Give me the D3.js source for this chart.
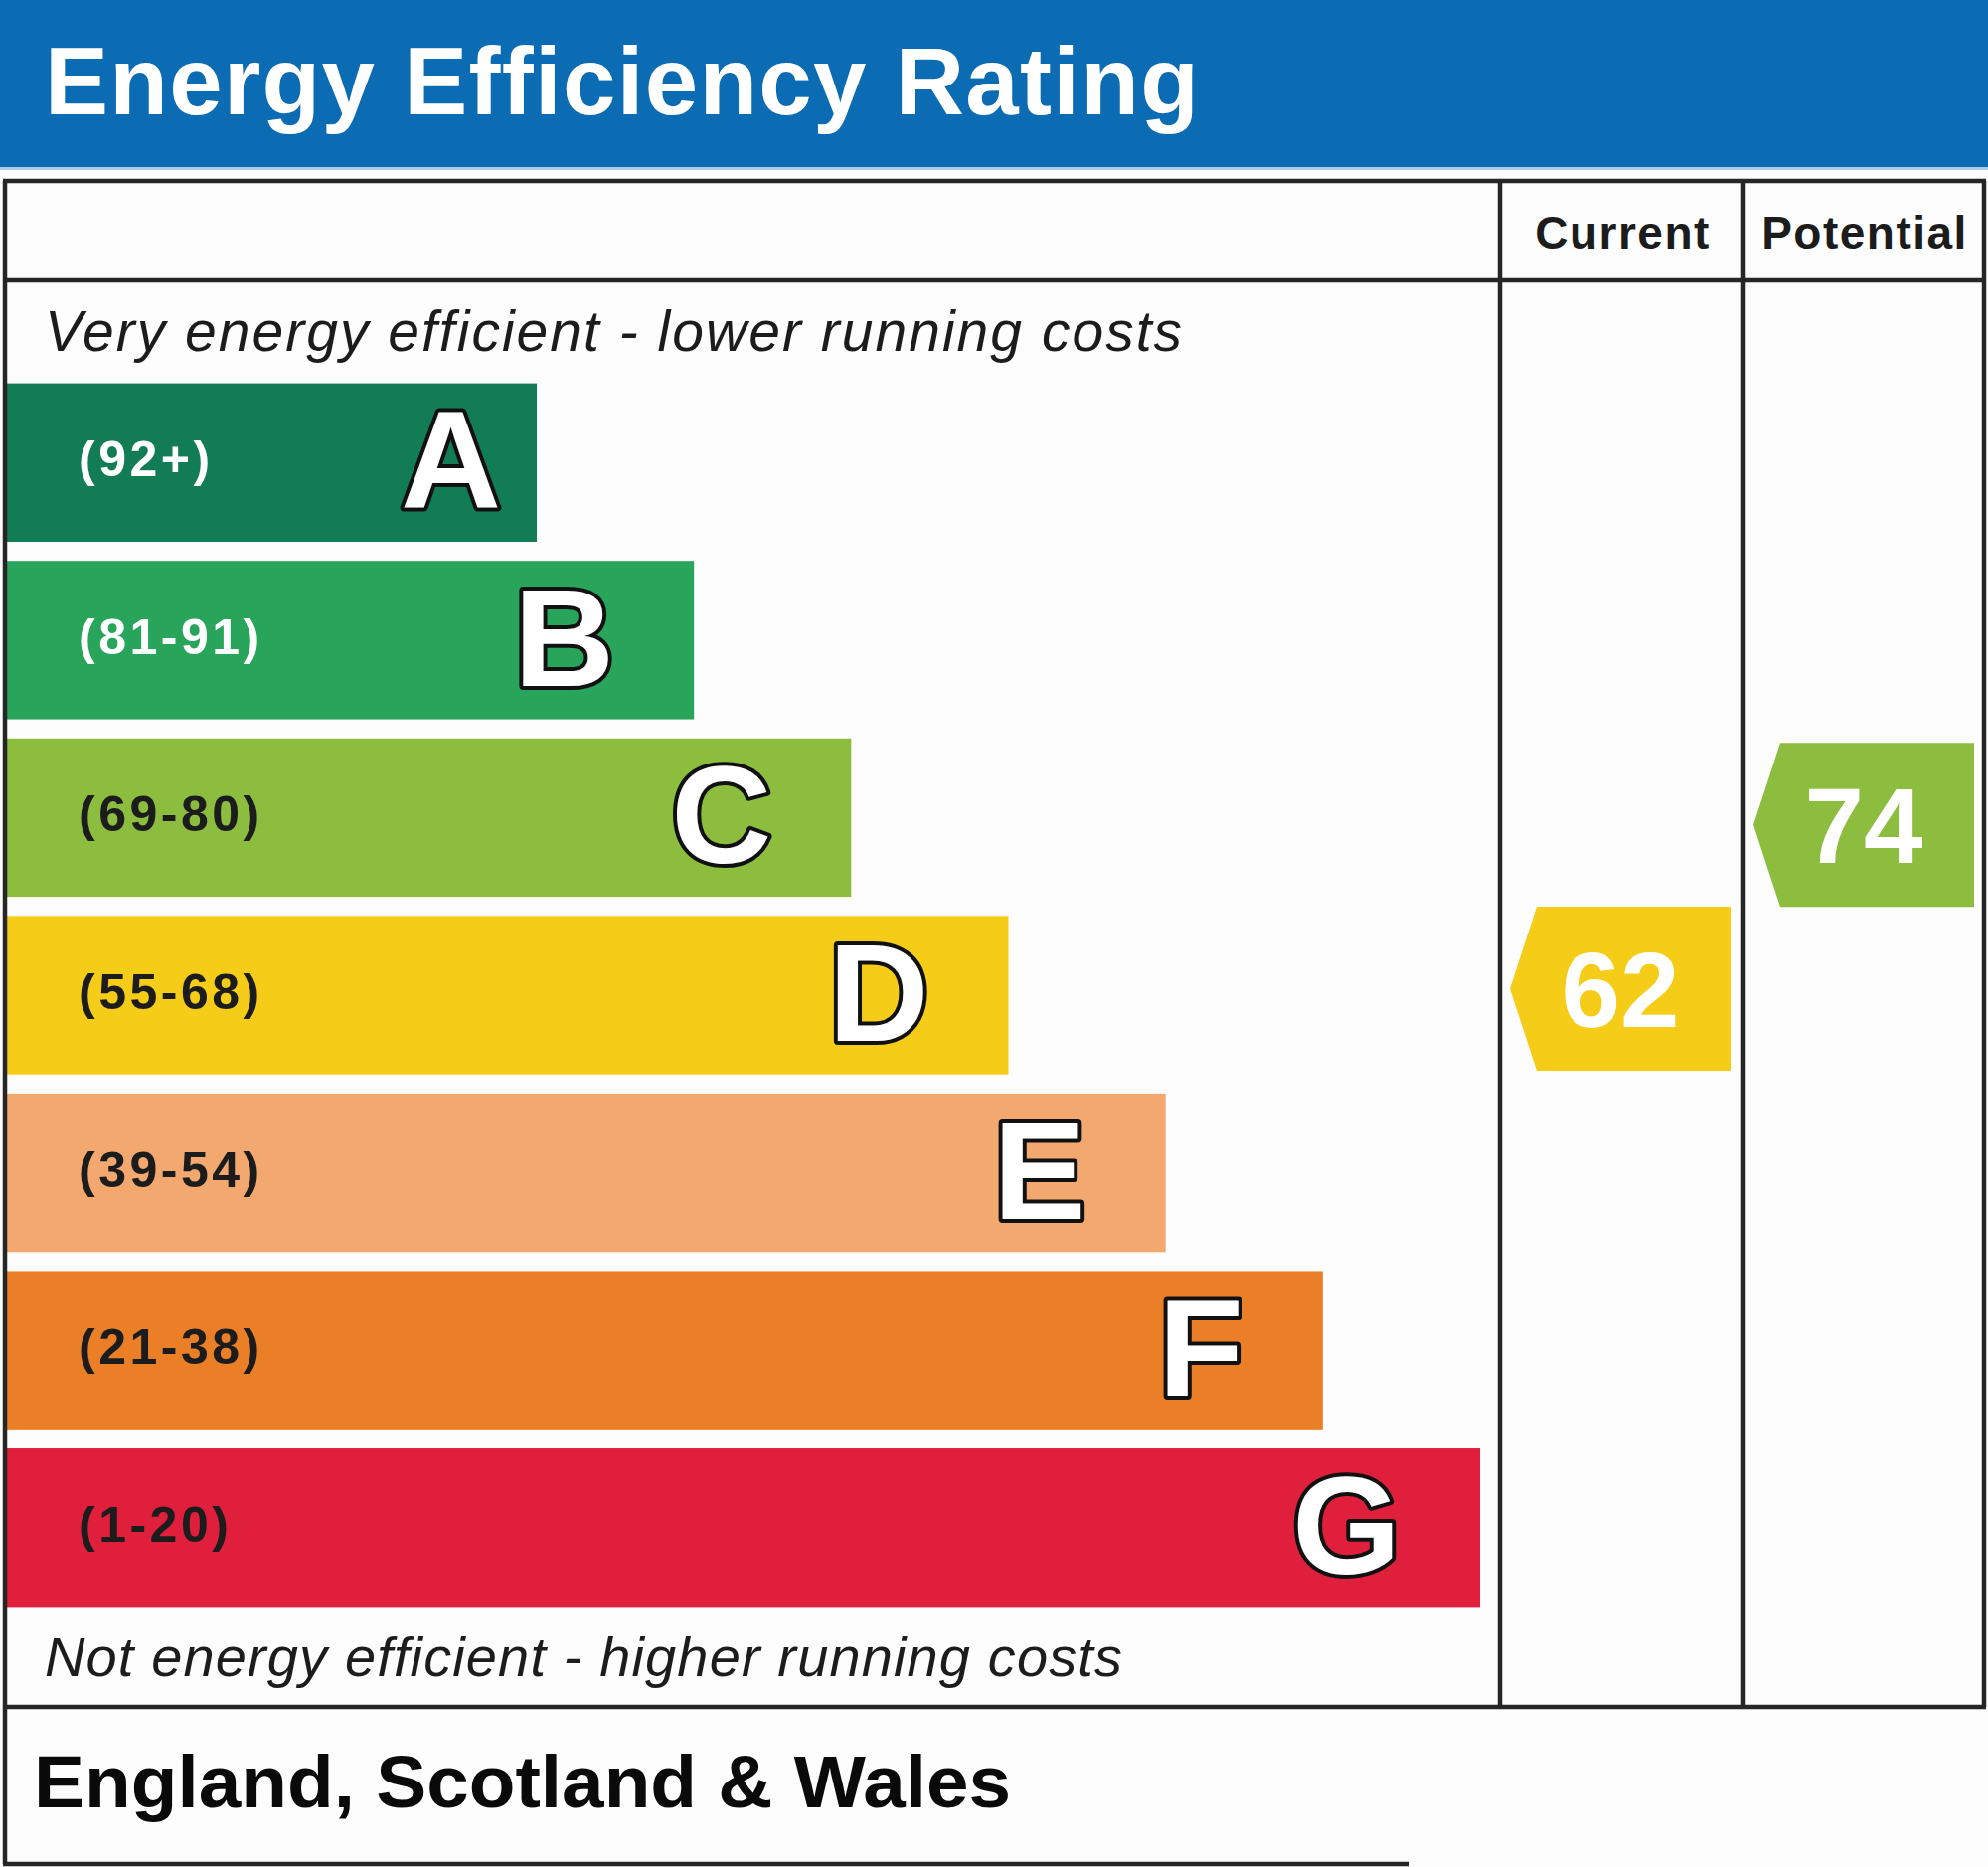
<!DOCTYPE html>
<html>
<head>
<meta charset="utf-8">
<script src="https://cdn.jsdelivr.net/npm/d3@7"></script>
<style>
  html, body { margin: 0; padding: 0; background: #ffffff; }
  svg { display: block; }
</style>
</head>
<body>
<svg id="chart" width="2000" height="1878"></svg>
<script>
// ---------- data ----------
const bands      = ["A", "B", "C", "D", "E", "F", "G"];
const rangeLabels = ["(92+)", "(81-91)", "(69-80)", "(55-68)", "(39-54)", "(21-38)", "(1-20)"];
const rangeLow   = [92, 81, 69, 55, 39, 21, 1];
const rangeHigh  = [100, 91, 80, 68, 54, 38, 20];
const bandColors = ["#127c55", "#28a55a", "#8dbd3f", "#f5cd19", "#f2a86f", "#eb7f28", "#e01f3d"];
const labelColors = ["#ffffff", "#ffffff", "#1c1c1c", "#1c1c1c", "#1c1c1c", "#1c1c1c", "#1c1c1c"];
const columns    = ["Current", "Potential"];
const ratings    = [62, 74];
const titleText  = "Energy Efficiency Rating";
const topNote    = "Very energy efficient - lower running costs";
const bottomNote = "Not energy efficient - higher running costs";
const footerText = "England, Scotland & Wales";

// ---------- layout ----------
const svg = d3.select("#chart");
const W = 2000;
const frameL = 5, frameR = 1996, frameT = 182, headRowB = 282, tableB = 1717, footB = 1875, footR = 1418;
const colEdges = [1509, 1754, 1996];
const lineCol = "#262626", lineW = 4.5;
const font = "'Liberation Sans', Arial, Helvetica, sans-serif";

// background
svg.append("rect").attr("width", W).attr("height", 1878).attr("fill", "#fdfdfd");

// header band
svg.append("rect").attr("x", 0).attr("y", 0).attr("width", W).attr("height", 168).attr("fill", "#0b6bb3");
svg.append("rect").attr("x", 0).attr("y", 168).attr("width", W).attr("height", 3).attr("fill", "#a9cbe8");
svg.append("text")
  .attr("x", 45).attr("y", 115)
  .attr("font-family", font).attr("font-weight", "bold").attr("font-size", 96)
  .attr("letter-spacing", 1.3)
  .attr("fill", "#ffffff")
  .text(titleText);

// ---------- scales ----------
const y = d3.scaleBand().domain(bands).range([376, 1626]).paddingInner(0.1075).paddingOuter(0.1075 / 2);
const xRight = d3.scaleLinear().domain([0, bands.length - 1]).range([540, 1489]);
const barX0 = 7;

const rows = bands.map((b, i) => ({
  band: b, label: rangeLabels[i], lo: rangeLow[i], hi: rangeHigh[i],
  color: bandColors[i], labelColor: labelColors[i], idx: i
}));

// value -> vertical position (linear inside the band's pitch)
function yOfValue(v) {
  const r = rows.find(d => v >= d.lo && v <= d.hi);
  const step = y.step();
  const start = y(r.band) - y.paddingInner() * step / 2;
  return start + step * (r.hi + 0.5 - v) / (r.hi - r.lo + 1);
}

// ---------- bars ----------
const g = svg.append("g");
g.selectAll("rect.bar").data(rows).join("rect")
  .attr("class", "bar")
  .attr("x", barX0)
  .attr("y", d => y(d.band))
  .attr("width", d => xRight(d.idx) - barX0)
  .attr("height", y.bandwidth())
  .attr("fill", d => d.color);

g.selectAll("text.range").data(rows).join("text")
  .attr("class", "range")
  .attr("x", 79)
  .attr("y", d => y(d.band) + y.bandwidth() / 2 + 14)
  .attr("font-family", font).attr("font-weight", "bold").attr("font-size", 50)
  .attr("letter-spacing", 3.5)
  .attr("fill", d => d.labelColor)
  .text(d => d.label);

g.selectAll("text.letter").data(rows).join("text")
  .attr("class", "letter")
  .attr("x", d => xRight(d.idx) - (d.band === "A" ? 36 : 80))
  .attr("y", d => y(d.band) + y.bandwidth() / 2 + 46)
  .attr("text-anchor", "end")
  .attr("font-family", font).attr("font-weight", "bold").attr("font-size", 140)
  .attr("fill", "#ffffff")
  .attr("stroke", "#111111").attr("stroke-width", 8)
  .attr("paint-order", "stroke")
  .attr("stroke-linejoin", "round")
  .text(d => d.band);

// notes
svg.append("text")
  .attr("x", 45).attr("y", 353)
  .attr("font-family", font).attr("font-style", "italic").attr("font-size", 57)
  .attr("textLength", 1144).attr("lengthAdjust", "spacing")
  .attr("fill", "#1c1c1c")
  .text(topNote);
svg.append("text")
  .attr("x", 45).attr("y", 1686)
  .attr("font-family", font).attr("font-style", "italic").attr("font-size", 56)
  .attr("textLength", 1084).attr("lengthAdjust", "spacing")
  .attr("fill", "#1c1c1c")
  .text(bottomNote);

// ---------- frame lines ----------
const lines = svg.append("g").attr("stroke", lineCol).attr("stroke-width", lineW).attr("fill", "none");
lines.append("line").attr("x1", frameL - 2).attr("x2", frameR + 2).attr("y1", frameT).attr("y2", frameT);
lines.append("line").attr("x1", frameL).attr("x2", frameR).attr("y1", headRowB).attr("y2", headRowB);
lines.append("line").attr("x1", frameL - 2).attr("x2", frameR + 2).attr("y1", tableB).attr("y2", tableB);
lines.append("line").attr("x1", frameL).attr("x2", frameL).attr("y1", frameT).attr("y2", footB);
lines.append("line").attr("x1", frameR).attr("x2", frameR).attr("y1", frameT).attr("y2", tableB);
colEdges.slice(0, 2).forEach(x => {
  lines.append("line").attr("x1", x).attr("x2", x).attr("y1", frameT).attr("y2", tableB);
});
lines.append("line").attr("x1", frameL - 2).attr("x2", footR).attr("y1", footB).attr("y2", footB);

// column headers
svg.selectAll("text.colhead").data(columns).join("text")
  .attr("class", "colhead")
  .attr("x", (d, i) => (colEdges[i] + colEdges[i + 1]) / 2 + 1)
  .attr("y", 250)
  .attr("text-anchor", "middle")
  .attr("font-family", font).attr("font-weight", "bold").attr("font-size", 46)
  .attr("letter-spacing", 1.5)
  .attr("fill", "#1c1c1c")
  .text(d => d);

// ---------- rating arrows ----------
const arrowH = 165, arrowNotch = 27, arrowW = 222;
const arrows = ratings.map((v, i) => {
  const r = rows.find(d => v >= d.lo && v <= d.hi);
  return { v, color: r.color, x0: colEdges[i] + 10, cy: yOfValue(v) };
});
const ag = svg.append("g");
ag.selectAll("path.arrow").data(arrows).join("path")
  .attr("class", "arrow")
  .attr("fill", d => d.color)
  .attr("d", d => {
    const t = d.cy - arrowH / 2, b = d.cy + arrowH / 2;
    return d3.line()([
      [d.x0, d.cy], [d.x0 + arrowNotch, t], [d.x0 + arrowW, t],
      [d.x0 + arrowW, b], [d.x0 + arrowNotch, b]
    ]) + "Z";
  });
ag.selectAll("text.val").data(arrows).join("text")
  .attr("class", "val")
  .attr("x", d => d.x0 + arrowW / 2)
  .attr("y", d => d.cy + 38)
  .attr("text-anchor", "middle")
  .attr("font-family", font).attr("font-weight", "bold").attr("font-size", 107)
  .attr("fill", "#ffffff")
  .text(d => d.v);

// footer
svg.append("text")
  .attr("x", 34).attr("y", 1818)
  .attr("font-family", font).attr("font-weight", "bold").attr("font-size", 74)
  .attr("textLength", 983).attr("lengthAdjust", "spacingAndGlyphs")
  .attr("fill", "#0a0a0a")
  .text(footerText);
</script>
</body>
</html>
